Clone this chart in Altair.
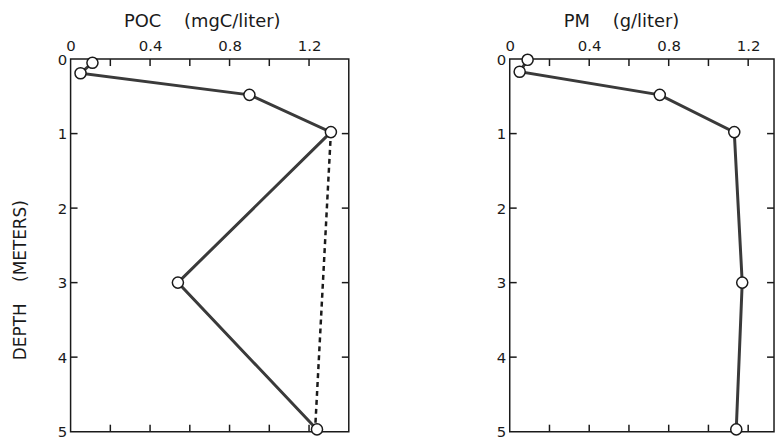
import altair as alt
import pandas as pd

# POC profile (mgC/liter) vs depth (m)
poc_depth = [0.05, 0.19, 0.48, 0.98, 3.0, 4.97]
poc_value = [0.11, 0.05, 0.90, 1.31, 0.54, 1.24]
# dashed POC line
poc_dash_depth = [0.98, 5.0]
poc_dash_value = [1.31, 1.23]

# PM profile (g/liter) vs depth (m)
pm_depth = [0.01, 0.17, 0.48, 0.98, 3.0, 4.97]
pm_value = [0.09, 0.05, 0.755, 1.13, 1.17, 1.14]

x_labels = [0, 0.4, 0.8, 1.2]
x_minor = [0.2, 0.4, 0.6, 0.8, 1.0, 1.2]
y_labels = [0, 1, 2, 3, 4, 5]
y_minor = [1, 2, 3, 4]

H = 375
FONT = "DejaVu Sans"
INK = "#1a1a1a"
SP = "\u00a0"


def panel(values, depths, title, title_x, W, xmax, dash=None, show_ytitle=False):
    df = pd.DataFrame({"value": values, "depth": depths, "order": list(range(len(values)))})
    xscale = alt.Scale(domain=[0, xmax], nice=False, zero=False)
    yscale = alt.Scale(domain=[0, 5], reverse=True, nice=False)
    xenc = alt.X(
        "value:Q",
        scale=xscale,
        axis=alt.Axis(
            orient="top", values=x_labels,
            labelExpr="datum.value == 0 ? '0' : format(datum.value, '.1f')",
            ticks=False, tickSize=0, domain=False, grid=False, labelPadding=6,
            labelFontSize=15, labelFont=FONT, labelColor=INK, labelFlush=False,
            labelOverlap=False,
            title=title, titleFont=FONT, titleFontSize=18,
            titleFontWeight="normal", titleColor=INK, titleX=title_x, titleY=-33,
            titleBaseline="alphabetic", titleAnchor="middle",
        ),
    )
    yaxis_kw = dict(
        values=y_labels, ticks=False, tickSize=0, domain=False, grid=False,
        labelPadding=4, labelFontSize=15, labelFont=FONT, labelColor=INK,
        labelFlush=False, labelOverlap=False,
    )
    if show_ytitle:
        yaxis_kw.update(
            title="DEPTH" + SP * 4 + "(METERS)", titleFont=FONT, titleFontSize=17,
            titleFontWeight="normal", titleColor=INK, titleX=-41, titleY=222,
            titleAngle=-90, titleBaseline="bottom",
        )
    else:
        yaxis_kw.update(title=None)
    yenc = alt.Y("depth:Q", scale=yscale, axis=alt.Axis(**yaxis_kw))

    base = alt.Chart(df)
    line = base.mark_line(color="#3a3a3a", strokeWidth=3).encode(
        x=xenc, y=yenc, order="order:Q"
    )
    pts = base.mark_point(
        shape="circle", filled=True, fill="white", stroke=INK, strokeWidth=1.5,
        size=125, opacity=1,
    ).encode(x=xenc, y=yenc)

    layers = [line]
    if dash is not None:
        ddf = pd.DataFrame({"value": dash[0], "depth": dash[1]})
        layers.append(
            alt.Chart(ddf).mark_line(color=INK, strokeWidth=2.5, strokeDash=[5, 4]).encode(
                x=xenc, y=yenc
            )
        )
    layers.append(pts)

    xt = pd.DataFrame({"value": x_minor})
    yt = pd.DataFrame({"depth": y_minor})
    tick_style = dict(color=INK, strokeWidth=1.5)
    layers.append(alt.Chart(xt).mark_rule(**tick_style).encode(
        x=xenc, y=alt.value(0), y2=alt.value(7)))
    layers.append(alt.Chart(xt).mark_rule(**tick_style).encode(
        x=xenc, y=alt.value(H - 7), y2=alt.value(H)))
    layers.append(alt.Chart(yt).mark_rule(**tick_style).encode(
        y=yenc, x=alt.value(0), x2=alt.value(7)))
    layers.append(alt.Chart(yt).mark_rule(**tick_style).encode(
        y=yenc, x=alt.value(W - 7), x2=alt.value(W)))

    return alt.layer(*layers).properties(width=W, height=H)


left = panel(poc_value, poc_depth, "POC" + SP * 4 + "(mgC/liter)", 132, 280, 1.4,
             dash=(poc_dash_value, poc_dash_depth), show_ytitle=True)
right = panel(pm_value, pm_depth, "PM" + SP * 4 + "(g/liter)", 112, 266, 1.33)

chart = alt.hconcat(left, right, spacing=145).configure_view(
    stroke=INK, strokeWidth=1.5
).properties(
    padding={"left": 3, "top": 2, "right": 0, "bottom": 0},
    background="white",
)

chart.save("out.html", embed_options={"renderer": "svg", "actions": False})
